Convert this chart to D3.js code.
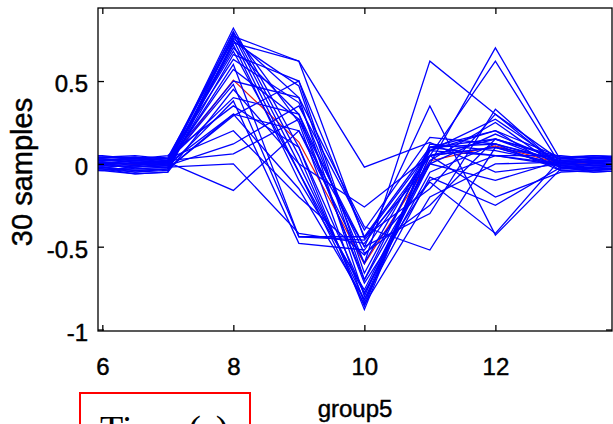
<!DOCTYPE html>
<html>
<head>
<meta charset="utf-8">
<script src="https://cdn.jsdelivr.net/npm/d3@7"></script>
<style>
  body { margin: 0; background: #fff; }
  text { font-family: "Liberation Sans", Arial, Helvetica, sans-serif; fill: #000; }
  .heavy { stroke: #000; stroke-width: 0.45px; }
</style>
</head>
<body>
<svg id="chart" width="613" height="424"></svg>
<script>
// Sampling times shared by every profile
const timePoints = [5, 6, 6.5, 7, 8, 9, 10, 11, 12, 13, 13.5, 14.5];

// One row per sample: value at each time point
const samples = [
  [ 0.02,  0.01,  0.00,  0.01,  0.82,  0.10, -0.88,  0.10,  0.12,  0.01,  0.02,  0.00],
  [-0.01,  0.00, -0.02,  0.00,  0.80,  0.05, -0.86,  0.12,  0.08,  0.00, -0.01,  0.02],
  [ 0.04,  0.03,  0.02,  0.03,  0.79,  0.25, -0.84,  0.05,  0.15,  0.03,  0.04,  0.03],
  [-0.03, -0.02, -0.05, -0.04,  0.78,  0.00, -0.82,  0.05,  0.10, -0.02, -0.03, -0.04],
  [ 0.05,  0.04,  0.04,  0.02,  0.77,  0.62, -0.45,  0.08,  0.20,  0.04,  0.05,  0.04],
  [ 0.00, -0.01,  0.01, -0.01,  0.76,  0.40, -0.80,  0.08,  0.05, -0.01,  0.00, -0.01],
  [ 0.03,  0.02,  0.03,  0.04,  0.75, -0.05, -0.78, -0.05,  0.12,  0.02,  0.01,  0.03],
  [-0.02, -0.03, -0.06, -0.05,  0.74,  0.47, -0.70,  0.10,  0.20, -0.04, -0.05, -0.03],
  [ 0.01,  0.02,  0.01,  0.00,  0.73,  0.62, -0.02,  0.13, -0.05,  0.00,  0.02,  0.01],
  [-0.04, -0.03, -0.03, -0.02,  0.72, -0.10, -0.76,  0.02,  0.25, -0.03, -0.02, -0.05],
  [ 0.02,  0.03,  0.02,  0.01,  0.70,  0.30, -0.72, -0.10,  0.05,  0.05,  0.03,  0.02],
  [ 0.00,  0.01, -0.01,  0.02,  0.68, -0.05, -0.85, -0.20,  0.00,  0.01, -0.01,  0.00],
  [-0.01, -0.02, -0.04, -0.03,  0.66,  0.50, -0.44, -0.15,  0.30, -0.02, -0.04, -0.02],
  [ 0.03,  0.04,  0.05,  0.03,  0.63,  0.37, -0.60,  0.62,  0.30,  0.02,  0.03,  0.05],
  [ 0.00,  0.00,  0.00, -0.01,  0.60, -0.44, -0.44,  0.10,  0.05,  0.00,  0.01, -0.01],
  [-0.02, -0.01, -0.02,  0.00,  0.57,  0.27, -0.50,  0.35, -0.43, -0.03, -0.02, -0.02],
  [ 0.04,  0.05,  0.03,  0.02,  0.50,  0.40, -0.38, -0.52,  0.10,  0.03,  0.02,  0.04],
  [ 0.01,  0.00,  0.02,  0.01,  0.48, -0.44, -0.46,  0.00,  0.70,  0.02,  0.00,  0.01],
  [-0.03, -0.04, -0.06, -0.05,  0.45,  0.00, -0.26,  0.05,  0.62, -0.01, -0.03, -0.04],
  [ 0.02,  0.01,  0.00,  0.02,  0.40,  0.30, -0.54, -0.25,  0.15,  0.04,  0.04,  0.02],
  [-0.01, -0.02, -0.01, -0.02,  0.38, -0.48, -0.52,  0.05, -0.20, -0.05, -0.04, -0.01],
  [ 0.05,  0.04,  0.03,  0.05,  0.35,  0.10, -0.78,  0.00,  0.18,  0.01,  0.03,  0.05],
  [ 0.00,  0.01,  0.00,  0.00,  0.30,  0.20, -0.50, -0.30,  0.33, -0.02,  0.00,  0.01],
  [-0.02, -0.03, -0.05, -0.03,  0.29,  0.50, -0.66,  0.08,  0.27,  0.00, -0.01, -0.03],
  [ 0.03,  0.02,  0.04,  0.03,  0.20, -0.20, -0.55, -0.11, -0.42,  0.03,  0.05,  0.02],
  [-0.04, -0.04, -0.02, -0.01,  0.12,  0.35, -0.40,  0.16,  0.12, -0.04, -0.03, -0.02],
  [ 0.01,  0.03,  0.01,  0.02,  0.06,  0.27, -0.70,  0.00, -0.10,  0.02,  0.01,  0.03],
  [-0.01,  0.00, -0.03, -0.02,  0.00, -0.42, -0.48,  0.05,  0.10, -0.01, -0.02,  0.00],
  [ 0.02,  0.02,  0.03,  0.01, -0.16,  0.20, -0.60,  0.10,  0.15,  0.00,  0.02,  0.01],
  [-0.03, -0.02, -0.04, -0.03,  0.30, -0.15, -0.82, -0.08, -0.25, -0.02, -0.05, -0.03]
];

const xTicks = [6, 8, 10, 12];
const yTicks = [-1, -0.5, 0, 0.5];
const yTickLabels = ["-1", "-0.5", "0", "0.5"];
const xTitle = "group5";
const yTitle = "30 samples";
const captionText = "Time (s)";

// Axes box
const box = { left: 98, right: 612, top: 8, bottom: 331 };

const x = d3.scaleLinear().domain([5.934, 13.78]).range([box.left, box.right]);
const y = d3.scaleLinear().domain([-1.009, 0.941]).range([box.bottom, box.top]);

const svg = d3.select("#chart");

svg.append("defs").append("clipPath").attr("id", "plot-clip")
  .append("rect")
  .attr("x", box.left).attr("y", box.top)
  .attr("width", box.right - box.left).attr("height", box.bottom - box.top);

const line = d3.line()
  .x((d, i) => x(timePoints[i]))
  .y(d => y(d));

// Mean profile across samples
const meanProfile = timePoints.map((t, i) => d3.mean(samples, s => s[i]));

const plotArea = svg.append("g").attr("clip-path", "url(#plot-clip)");

// Mean drawn first so the sample traces sit over it
plotArea.append("path")
  .datum(meanProfile)
  .attr("d", line)
  .attr("fill", "none")
  .attr("stroke", "#d82020")
  .attr("stroke-width", 1.2);

plotArea.selectAll("path.sample")
  .data(samples)
  .join("path")
  .attr("class", "sample")
  .attr("d", line)
  .attr("fill", "none")
  .attr("stroke", "#0000ff")
  .attr("stroke-width", 1.3);

// Box outline
svg.append("rect")
  .attr("x", box.left).attr("y", box.top)
  .attr("width", box.right - box.left).attr("height", box.bottom - box.top)
  .attr("fill", "none").attr("stroke", "#000").attr("stroke-width", 1.3);

const tickLen = 6;

// Bottom axis with labels, ticks pointing inward
const bottomAxis = svg.append("g")
  .attr("transform", `translate(0,${box.bottom})`)
  .call(d3.axisBottom(x).tickValues(xTicks).tickSizeInner(-tickLen).tickSizeOuter(0).tickPadding(27));
bottomAxis.select(".domain").remove();
bottomAxis.selectAll("text").attr("class", "heavy")
  .style("font-size", "24px").style("font-family", "'Liberation Sans', Arial, sans-serif");

// Top axis: ticks only
const topAxis = svg.append("g")
  .attr("transform", `translate(0,${box.top})`)
  .call(d3.axisTop(x).tickValues(xTicks).tickSizeInner(-tickLen).tickSizeOuter(0).tickFormat(""));
topAxis.select(".domain").remove();

// Left axis with labels
const leftAxis = svg.append("g")
  .attr("transform", `translate(${box.left},0)`)
  .call(d3.axisLeft(y).tickValues(yTicks).tickSizeInner(-tickLen).tickSizeOuter(0).tickPadding(10)
    .tickFormat((d, i) => yTickLabels[i]));
leftAxis.select(".domain").remove();
leftAxis.selectAll("text").attr("class", "heavy").attr("y", 3)
  .style("font-size", "24px").style("font-family", "'Liberation Sans', Arial, sans-serif");

// Right axis: ticks only
const rightAxis = svg.append("g")
  .attr("transform", `translate(${box.right},0)`)
  .call(d3.axisRight(y).tickValues(yTicks).tickSizeInner(-tickLen).tickSizeOuter(0).tickFormat(""));
rightAxis.select(".domain").remove();

svg.selectAll(".tick line").attr("stroke", "#000").attr("stroke-width", 1.3);

// Axis titles
svg.append("text")
  .attr("class", "heavy")
  .attr("x", 355).attr("y", 417)
  .attr("text-anchor", "middle")
  .style("font-size", "24px")
  .text(xTitle);

svg.append("text")
  .attr("class", "heavy")
  .attr("transform", "translate(32,172) rotate(-90)")
  .attr("text-anchor", "middle")
  .style("font-size", "29px")
  .text(yTitle);

// Framed caption below the axes
svg.append("rect")
  .attr("x", 80).attr("y", 393)
  .attr("width", 170).attr("height", 60)
  .attr("fill", "none").attr("stroke", "#ff0000").attr("stroke-width", 2);

svg.append("text")
  .attr("x", 100).attr("y", 442)
  .style("font-family", "'Liberation Serif', 'Times New Roman', serif")
  .style("font-size", "38px")
  .text(captionText);
</script>
</body>
</html>
